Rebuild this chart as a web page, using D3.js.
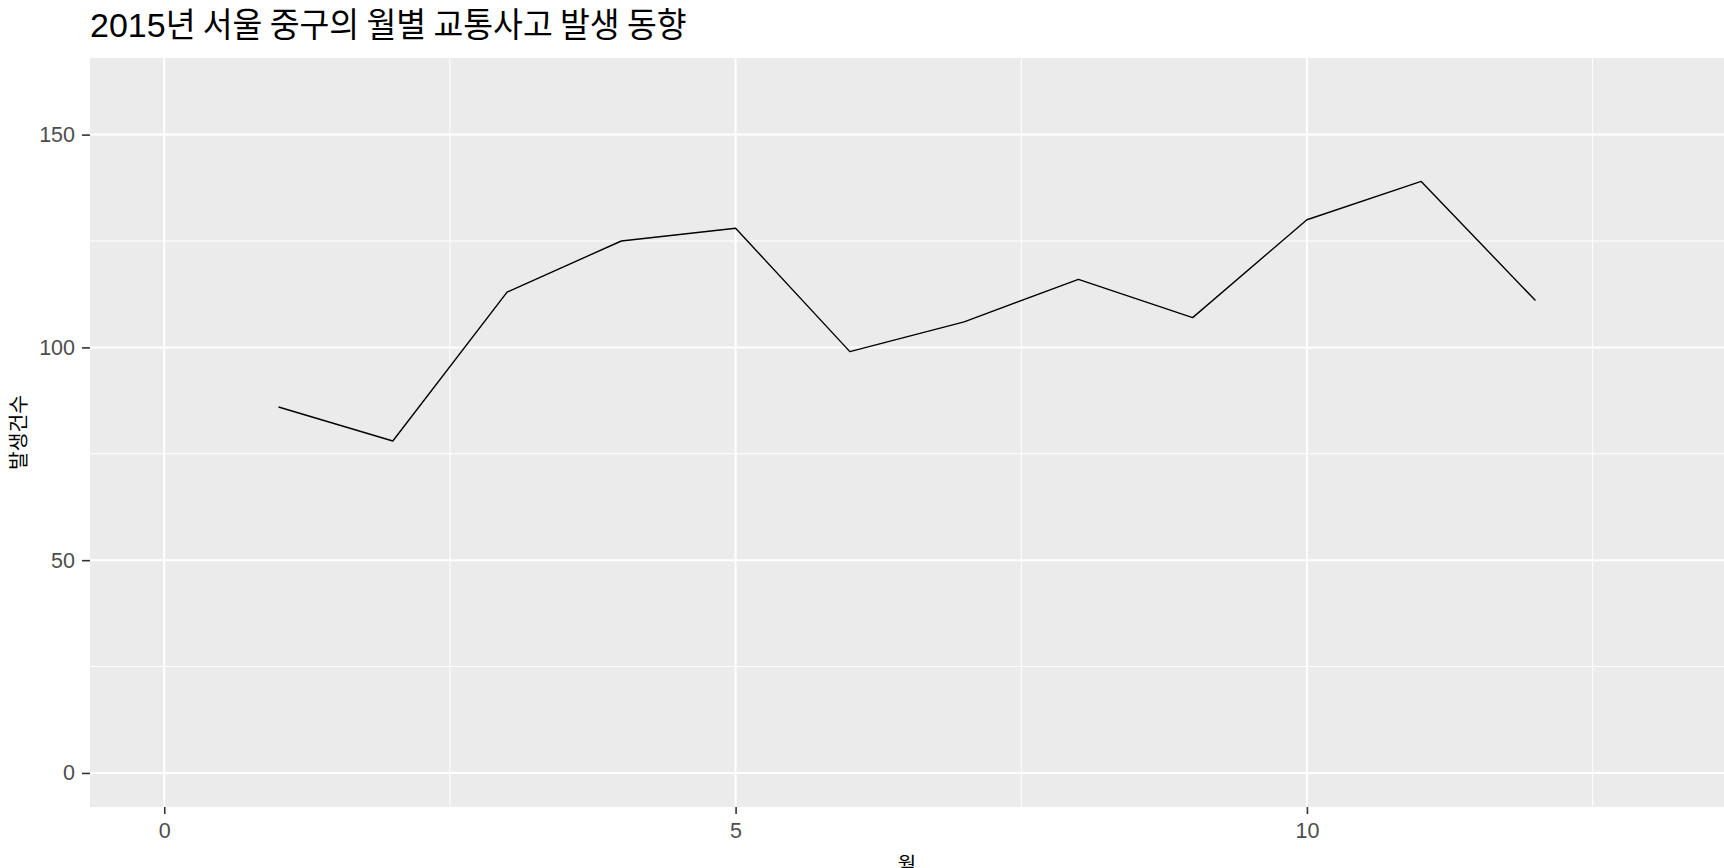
<!DOCTYPE html>
<html>
<head>
<meta charset="utf-8">
<script src="https://cdn.jsdelivr.net/npm/d3@7"></script>
<style>
  html, body { margin: 0; padding: 0; background: #ffffff; }
  svg { display: block; }
  text { font-family: "Liberation Sans", Arial, "Noto Sans CJK KR", sans-serif; }
</style>
</head>
<body>
<svg id="chart" width="1724" height="868"></svg>
<script>
// ---- data ----
const months = [1, 2, 3, 4, 5, 6, 7, 8, 9, 10, 11, 12];
const accidents = [86, 78, 113, 125, 128, 99, 106, 116, 107, 130, 139, 111];
const xTicks = [0, 5, 10];
const xMinorTicks = [2.5, 7.5, 12.5];
const yTicks = [0, 50, 100, 150];
const yMinorTicks = [25, 75, 125];
const titleNum = "2015";
const titleRest = "년 서울 중구의 월별 교통사고 발생 동향";
const xTitle = "월";
const yTitle = "발생건수";

// ---- layout ----
const W = 1724, H = 868;
const panel = { left: 90, right: 1724, top: 58, bottom: 807 };

const svg = d3.select("#chart");

const x = d3.scaleLinear().domain([-0.65, 13.65]).range([panel.left, panel.right]);
const y = d3.scaleLinear().domain([-8, 168]).range([panel.bottom, panel.top]);

// panel background
svg.append("rect")
  .attr("x", panel.left).attr("y", panel.top)
  .attr("width", panel.right - panel.left)
  .attr("height", panel.bottom - panel.top)
  .attr("fill", "#EBEBEB");

const grid = svg.append("g");
// minor grid
grid.selectAll("line.xminor").data(xMinorTicks).enter().append("line")
  .attr("x1", d => x(d)).attr("x2", d => x(d))
  .attr("y1", panel.top).attr("y2", panel.bottom)
  .attr("stroke", "#ffffff").attr("stroke-width", 1);
grid.selectAll("line.yminor").data(yMinorTicks).enter().append("line")
  .attr("y1", d => y(d)).attr("y2", d => y(d))
  .attr("x1", panel.left).attr("x2", panel.right)
  .attr("stroke", "#ffffff").attr("stroke-width", 1);
// major grid
grid.selectAll("line.xmajor").data(xTicks).enter().append("line")
  .attr("x1", d => x(d)).attr("x2", d => x(d))
  .attr("y1", panel.top).attr("y2", panel.bottom)
  .attr("stroke", "#ffffff").attr("stroke-width", 2);
grid.selectAll("line.ymajor").data(yTicks).enter().append("line")
  .attr("y1", d => y(d)).attr("y2", d => y(d))
  .attr("x1", panel.left).attr("x2", panel.right)
  .attr("stroke", "#ffffff").attr("stroke-width", 2);

// line
const line = d3.line().x((d, i) => x(months[i])).y(d => y(d));
svg.append("path")
  .datum(accidents)
  .attr("d", line)
  .attr("fill", "none")
  .attr("stroke", "#000000")
  .attr("stroke-width", 1.4)
  .attr("stroke-linejoin", "round");

// axes
const xAxis = d3.axisBottom(x).tickValues(xTicks).tickSize(7).tickPadding(9).tickFormat(d3.format("d"));
const gx = svg.append("g").attr("transform", `translate(0,${panel.bottom})`).call(xAxis);
gx.select(".domain").remove();
gx.selectAll(".tick line").attr("stroke", "#333333").attr("stroke-width", 1.6);
gx.selectAll(".tick text").attr("fill", "#4D4D4D").attr("font-size", "21.5px")
  .attr("font-family", "'Liberation Sans', Arial, sans-serif");

const yAxis = d3.axisLeft(y).tickValues(yTicks).tickSize(8).tickPadding(7).tickFormat(d3.format("d"));
const gy = svg.append("g").attr("transform", `translate(${panel.left},0)`).call(yAxis);
gy.select(".domain").remove();
gy.selectAll(".tick line").attr("stroke", "#333333").attr("stroke-width", 1.6);
gy.selectAll(".tick text").attr("fill", "#4D4D4D").attr("font-size", "21.5px")
  .attr("font-family", "'Liberation Sans', Arial, sans-serif");

// title
const t = svg.append("text")
  .attr("x", panel.left).attr("y", 37)
  .attr("fill", "#000000")
  .attr("font-size", "34px");
t.append("tspan").attr("font-family", "'Liberation Sans', Arial, sans-serif").text(titleNum);
t.append("tspan").attr("font-family", "'Noto Sans CJK KR', sans-serif")
  .attr("textLength", 521).attr("lengthAdjust", "spacingAndGlyphs").text(titleRest);

// axis titles
svg.append("text")
  .attr("x", (panel.left + panel.right) / 2).attr("y", 872)
  .attr("text-anchor", "middle")
  .attr("font-family", "'Noto Sans CJK KR', sans-serif")
  .attr("font-size", "20px").attr("fill", "#000000")
  .text(xTitle);

svg.append("text")
  .attr("transform", `translate(26,${(panel.top + panel.bottom) / 2}) rotate(-90)`)
  .attr("text-anchor", "middle")
  .attr("font-family", "'Noto Sans CJK KR', sans-serif")
  .attr("font-size", "20px").attr("fill", "#000000")
  .attr("textLength", 75).attr("lengthAdjust", "spacingAndGlyphs")
  .text(yTitle);
</script>
</body>
</html>
